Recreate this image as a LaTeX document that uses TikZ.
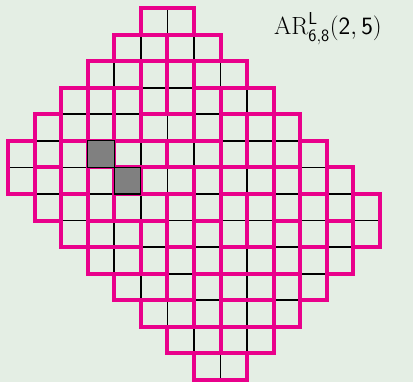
\documentclass[tikz,border=0pt]{standalone}
\usepackage{amsmath}
\definecolor{bgc}{RGB}{228,238,228}
\definecolor{mag}{RGB}{233,0,139}
\begin{document}
\begin{tikzpicture}[x=1pt,y=-1pt,
  cellline/.style={draw=black,line width=1.7pt},
  domline/.style={draw=mag,line width=4pt,line join=miter},
  holecell/.style={fill=gray,draw=black,line width=1.2pt}]
\fill[bgc] (0,0) rectangle (413,382);
\useasboundingbox (0,0) rectangle (413,382);
\begin{scope}[shift={(8,8)},x=26.57pt,y=-26.57pt]
\foreach \r/\a/\b in {0/5/6,1/4/7,2/3/8,3/2/9,4/1/10,5/0/11,6/0/12,7/1/13,8/2/13,9/3/12,10/4/11,11/5/10,12/6/9,13/7/8}
  \foreach \c in {\a,...,\b}
    \draw[cellline] (\c,\r) rectangle ++(1,1);
% horizontal dominoes (row/col of left cell)
\foreach \r/\c in {0/5,1/4,1/6,2/3,2/7,3/8,4/5,5/4,5/6,6/5,6/8,7/4,8/3,9/3,9/8,10/4,10/8,11/5,11/8,12/6,12/8,13/7}
  \draw[domline] (\c,\r) rectangle ++(2,1);
% vertical dominoes (row/col of top cell)
\foreach \r/\c in {2/5,2/6,3/2,3/3,3/4,3/7,4/1,4/8,4/9,4/10,5/0,5/2,5/11,6/1,6/3,6/7,6/10,6/12,7/2,7/6,7/8,7/9,7/11,7/13,8/5,8/7,8/10,8/12,9/6,9/11,10/7,10/10}
  \draw[domline] (\c,\r) rectangle ++(1,2);
% removed cells
\foreach \r/\c in {5/3,6/4}
  \draw[holecell] (\c,\r) rectangle ++(1,1);
\end{scope}
\node[anchor=base west,inner sep=0pt,font=\fontsize{27}{30}\selectfont] (lbl) at (274,35) {$\mathrm{AR}^{\mathsf{L}}_{\mathsf{6,8}}(\mathsf{2},\mathsf{5})$};
\end{tikzpicture}
\end{document}
